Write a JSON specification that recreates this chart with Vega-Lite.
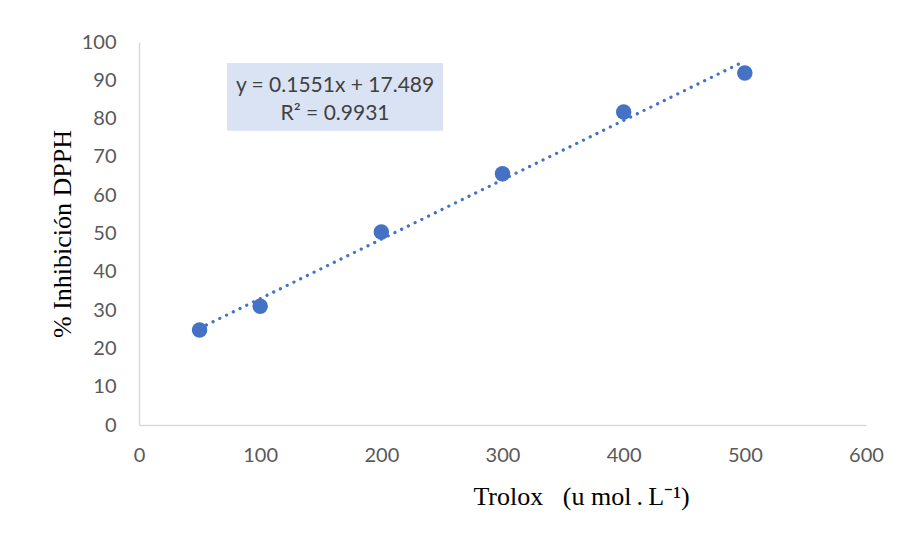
{
  "$schema": "https://vega.github.io/schema/vega-lite/v6.json",
  "width": 727,
  "height": 383,
  "padding": {"left": 139, "top": 42, "right": 34, "bottom": 113},
  "autosize": {"type": "none"},
  "background": "white",
  "config": {
    "view": {"stroke": null},
    "font": "Lato",
    "axis": {"grid": false, "ticks": false, "domainColor": "#d9d9d9", "domainWidth": 1.5, "labelColor": "#595959", "labelFontSize": 20, "labelFont": "Lato", "labelOverlap": false, "labelFlush": false, "titleFont": "Liberation Serif", "titleFontWeight": "normal", "titleColor": "#000000"}
  },
  "datasets": {
    "pts": [
      {"x": 50, "y": 24.8},
      {"x": 100, "y": 31.0},
      {"x": 200, "y": 50.4},
      {"x": 300, "y": 65.6},
      {"x": 400, "y": 81.7},
      {"x": 500, "y": 91.9}
    ],
    "trend": [
      {"x": 50, "y": 25.24},
      {"x": 500, "y": 95.04}
    ],
    "box": [
      {"x": 72.6, "x2": 251, "y": 76.8, "y2": 94.5}
    ],
    "lbl": [
      {"x": 161.8, "y": 88.6, "t": "y = 0.1551x + 17.489"},
      {"x": 161.8, "y": 81.3, "t": "R² = 0.9931"}
    ]
  },
  "encoding": {
    "x": {"field": "x", "type": "quantitative", "scale": {"domain": [0, 600]},
      "axis": {"values": [0,100,200,300,400,500,600], "labelPadding": 20,
        "title": "Trolox\u00a0\u00a0\u00a0(u\u00a0mol\u2009.\u2009L⁻¹)", "titleFontSize": 26, "titleX": 442, "titleY": 79, "titleBaseline": "alphabetic", "titleAnchor": "middle"}},
    "y": {"field": "y", "type": "quantitative", "scale": {"domain": [0, 100]},
      "axis": {"values": [0,10,20,30,40,50,60,70,80,90,100], "labelPadding": 23,
        "title": "% Inhibición DPPH", "titleFontSize": 26, "titleX": -77, "titleBaseline": "middle", "titleAnchor": "middle"}}
  },
  "layer": [
    {
      "data": {"name": "box"},
      "mark": {"type": "rect", "color": "#dae3f3"},
      "encoding": {
        "x2": {"field": "x2"},
        "y2": {"field": "y2"}
      }
    },
    {
      "data": {"name": "lbl"},
      "mark": {"type": "text", "font": "Lato", "fontSize": 21, "color": "#404040", "align": "center", "baseline": "middle"},
      "encoding": {
        "text": {"field": "t"}
      }
    },
    {
      "data": {"name": "trend"},
      "mark": {"type": "line", "color": "#4472c4", "strokeWidth": 3.2, "strokeCap": "round", "strokeDash": [0.1, 7.4]},
      "encoding": {}
    },
    {
      "data": {"name": "pts"},
      "mark": {"type": "point", "filled": true, "color": "#4472c4", "opacity": 1, "size": 240},
      "encoding": {}
    }
  ]
}
